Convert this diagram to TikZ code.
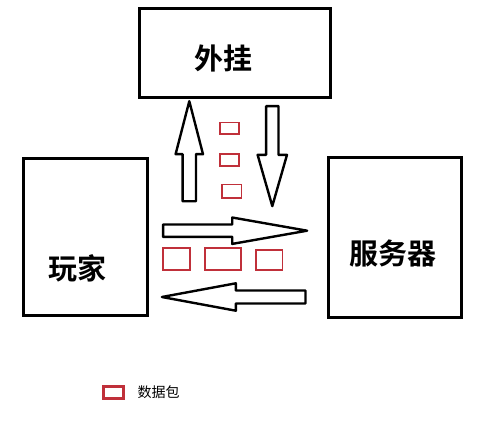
\documentclass[tikz,border=0pt]{standalone}
\usepackage{fontspec}
\usepackage{tikz}
\usetikzlibrary{shapes,arrows,positioning}
\newfontfamily\cjk{Noto Sans CJK SC}[BoldFont={Noto Sans CJK SC Bold}]
\definecolor{pktred}{RGB}{192, 48, 58}
\tikzstyle{party} = [rectangle, draw=black, line width=3pt, fill=white, inner sep=0pt]
\tikzstyle{textonly} = [draw=none, fill=none, text centered, font=\cjk\bfseries\fontsize{29pt}{30pt}\selectfont]
\tikzstyle{packet} = [rectangle, draw=pktred, line width=1.8pt, inner sep=0pt]
\tikzstyle{flow} = [single arrow, draw=black, line width=2.4pt, line join=round, fill=white, inner xsep=0pt, outer sep=0pt, single arrow head indent=0pt]

\begin{document}
\begin{tikzpicture}[x=1pt, y=-1pt]
\useasboundingbox[fill=white] (0,0) rectangle (499,426);

% parties =============================
\node[party, minimum width=191pt, minimum height=89pt] (plugin) at (235.3,52.5) {};
\node[party, minimum width=124pt, minimum height=157pt] (player) at (85,237.2) {};
\node[party, minimum width=133pt, minimum height=160pt] (server) at (395.3,237) {};
\node[textonly] (pluginlabel) at (223,58) {外挂};
\node[textonly] (playerlabel) at (77.5,268) {玩家};
\node[textonly] (serverlabel) at (392.5,253) {服务器};

% flows
\node[flow, rotate=90, anchor=tip, minimum height=100pt, inner ysep=5.5pt,
  single arrow head extend=7pt, single arrow tip angle=29] (up) at (189.3,101.2) {};
\node[flow, rotate=-90, anchor=tip, minimum height=100pt, inner ysep=5pt,
  single arrow head extend=8.5pt, single arrow tip angle=32] (down) at (272.3,206.1) {};
\node[flow, anchor=tip, minimum height=144pt, inner ysep=5pt,
  single arrow head extend=7pt, single arrow tip angle=20] (toserver) at (307.1,230.7) {};
\node[flow, rotate=180, anchor=tip, minimum height=143.6pt, inner ysep=5.3pt,
  single arrow head extend=7.2pt, single arrow tip angle=21] (toplayer) at (161.9,297) {};

% packets
\node[packet, minimum width=19pt, minimum height=11.5pt] (p1) at (229.5,128.3) {};
\node[packet, minimum width=19pt, minimum height=12.5pt] (p2) at (229.5,160) {};
\node[packet, minimum width=19.5pt, minimum height=13.5pt] (p3) at (231.8,191.2) {};
\node[packet, minimum width=27pt, minimum height=22pt] (p4) at (176.2,258.7) {};
\node[packet, minimum width=35.5pt, minimum height=22pt] (p5) at (223,258.7) {};
\node[packet, minimum width=26.5pt, minimum height=19.5pt] (p6) at (269.2,260) {};

% legend
\node[packet, line width=3pt, minimum width=20.5pt, minimum height=12pt] (key) at (113.3,392.5) {};
\node[textonly, font=\cjk\fontsize{14pt}{15pt}\selectfont, right=9pt of key] (keylabel) {数据包};

\end{tikzpicture}
\end{document}
